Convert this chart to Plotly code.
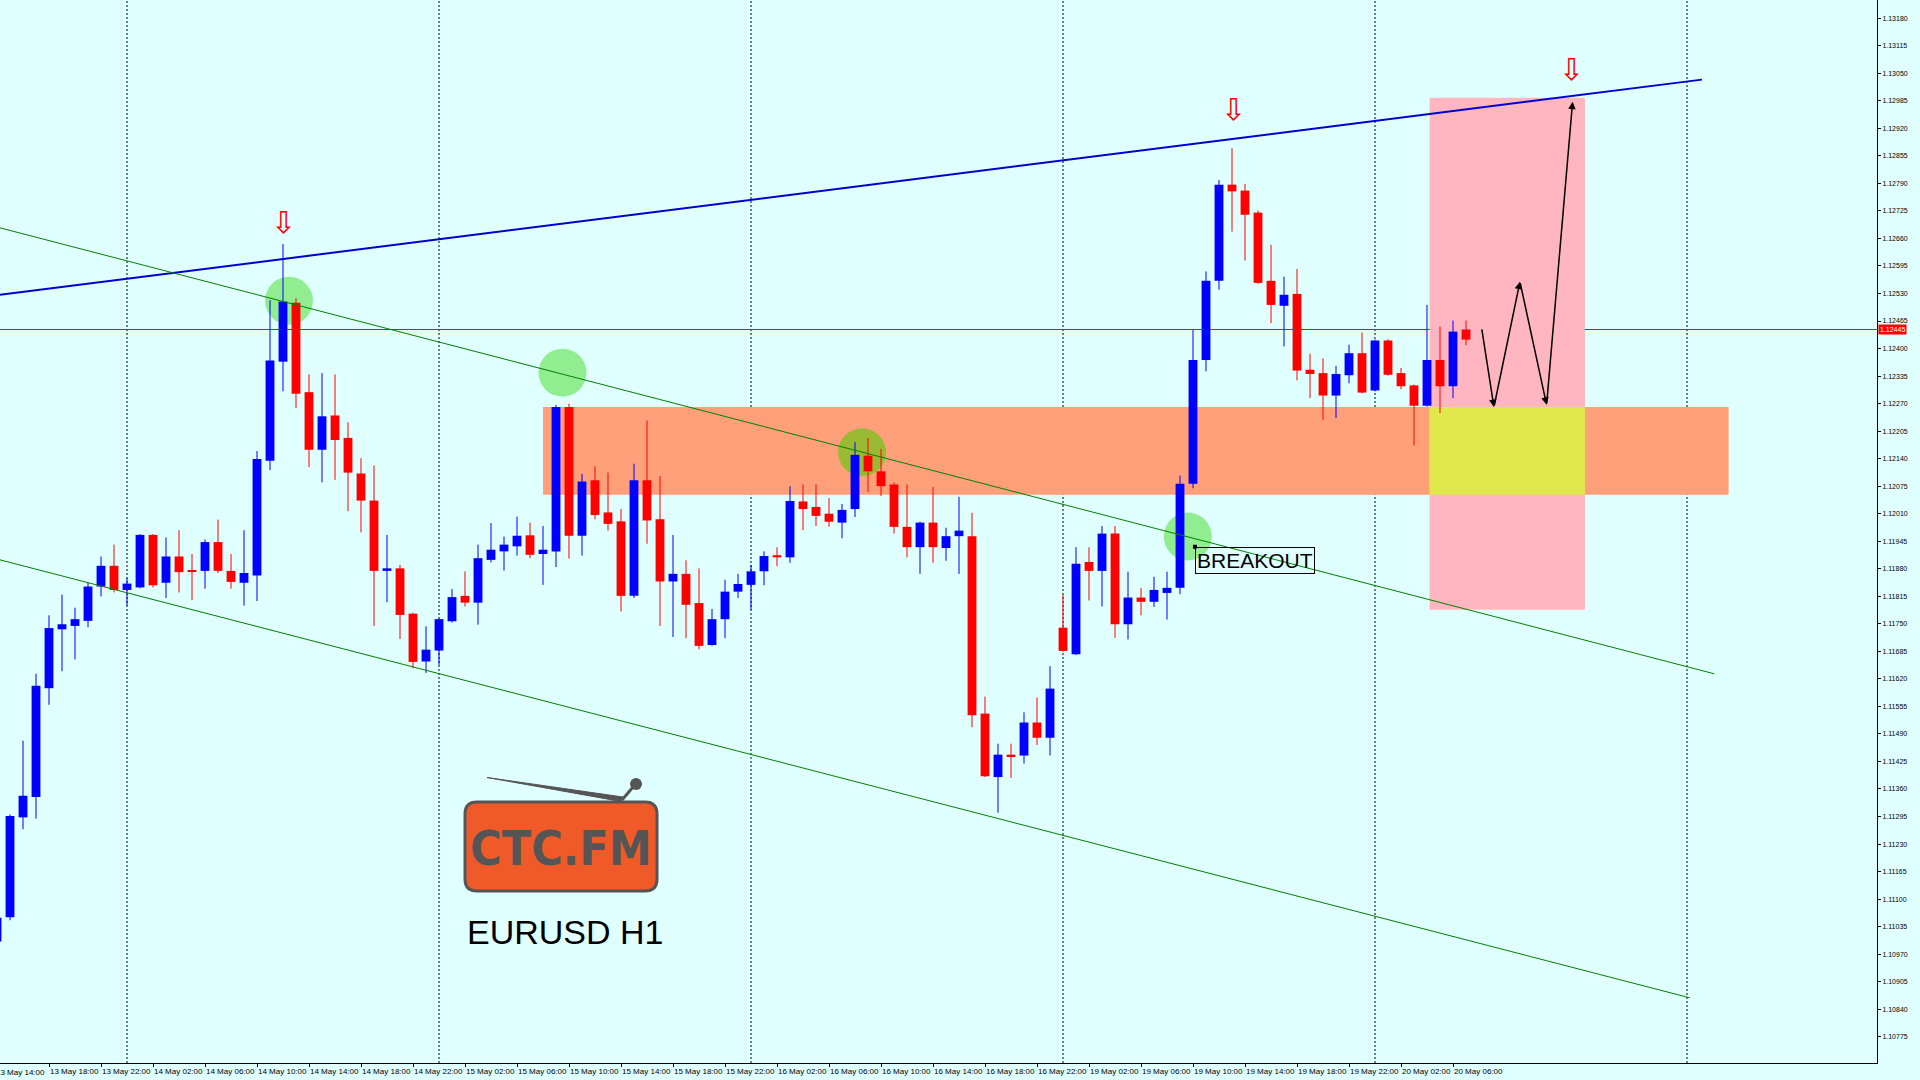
import plotly.graph_objects as go

# ---------------- data ----------------
bar_index = list(range(114))  # 0 = 13 May 14:00, hourly bars
opens = [1.11000, 1.11057, 1.11293, 1.11341, 1.11598, 1.11737, 1.11745, 1.11757, 1.11838, 1.11887,
         1.11830, 1.11836, 1.11960, 1.11847, 1.11909, 1.11877, 1.11875, 1.11943, 1.11875, 1.11847,
         1.11864, 1.12135, 1.12369, 1.12508, 1.12297, 1.12161, 1.12242, 1.12189, 1.12105, 1.12041,
         1.11875, 1.11881, 1.11774, 1.11661, 1.11687, 1.11756, 1.11816, 1.11800, 1.11901, 1.11921,
         1.11933, 1.11959, 1.11915, 1.11921, 1.12262, 1.11958, 1.12089, 1.12013, 1.11992, 1.11816,
         1.12089, 1.11997, 1.11850, 1.11868, 1.11799, 1.11700, 1.11761, 1.11826, 1.11842, 1.11874,
         1.11912, 1.11907, 1.12039, 1.12026, 1.12010, 1.11989, 1.12021, 1.12147, 1.12110, 1.12079,
         1.11979, 1.11931, 1.11989, 1.11929, 1.11957, 1.11957, 1.11538, 1.11388, 1.11441, 1.11439,
         1.11517, 1.11481, 1.11741, 1.11678, 1.11896, 1.11875, 1.11963, 1.11749, 1.11812, 1.11802,
         1.11823, 1.11835, 1.12081, 1.12373, 1.12560, 1.12787, 1.12773, 1.12721, 1.12560, 1.12501,
         1.12529, 1.12350, 1.12342, 1.12289, 1.12337, 1.12389, 1.12301, 1.12419, 1.12342, 1.12313,
         1.12265, 1.12373, 1.12311, 1.12445]
highs = [1.11062, 1.11300, 1.11474, 1.11632, 1.11770, 1.11819, 1.11788, 1.11847, 1.11909, 1.11937,
         1.11858, 1.11962, 1.11962, 1.11954, 1.11971, 1.11915, 1.11949, 1.11996, 1.11915, 1.11971,
         1.12158, 1.12514, 1.12647, 1.12519, 1.12339, 1.12342, 1.12339, 1.12226, 1.12141, 1.12124,
         1.11960, 1.11889, 1.11776, 1.11744, 1.11763, 1.11832, 1.11874, 1.11937, 1.11988, 1.11956,
         1.12003, 1.11989, 1.11981, 1.12267, 1.12270, 1.12104, 1.12122, 1.12107, 1.12021, 1.12128,
         1.12230, 1.12099, 1.11960, 1.11900, 1.11881, 1.11785, 1.11854, 1.11868, 1.11889, 1.11921,
         1.11931, 1.12075, 1.12079, 1.12079, 1.12047, 1.12033, 1.12179, 1.12189, 1.12163, 1.12084,
         1.12079, 1.11991, 1.12073, 1.11977, 1.12050, 1.12012, 1.11578, 1.11467, 1.11467, 1.11541,
         1.11576, 1.11650, 1.11818, 1.11931, 1.11931, 1.11981, 1.11981, 1.11873, 1.11835, 1.11861,
         1.11873, 1.12100, 1.12444, 1.12582, 1.12798, 1.12873, 1.12789, 1.12726, 1.12645, 1.12570,
         1.12588, 1.12388, 1.12377, 1.12359, 1.12409, 1.12438, 1.12421, 1.12422, 1.12354, 1.12315,
         1.12503, 1.12452, 1.12466, 1.12466]
lows = [1.10980, 1.11050, 1.11265, 1.11290, 1.11559, 1.11638, 1.11666, 1.11742, 1.11815, 1.11824,
        1.11793, 1.11834, 1.11836, 1.11811, 1.11824, 1.11806, 1.11833, 1.11870, 1.11833, 1.11793,
        1.11804, 1.12113, 1.12299, 1.12259, 1.12120, 1.12084, 1.12090, 1.12016, 1.11966, 1.11745,
        1.11801, 1.11714, 1.11645, 1.11634, 1.11653, 1.11753, 1.11791, 1.11748, 1.11895, 1.11876,
        1.11911, 1.11905, 1.11842, 1.11884, 1.11904, 1.11911, 1.11997, 1.11970, 1.11779, 1.11811,
        1.11939, 1.11745, 1.11719, 1.11716, 1.11690, 1.11698, 1.11716, 1.11811, 1.11783, 1.11841,
        1.11886, 1.11894, 1.11971, 1.11981, 1.11979, 1.11952, 1.12002, 1.12061, 1.12052, 1.11963,
        1.11907, 1.11868, 1.11894, 1.11899, 1.11868, 1.11506, 1.11388, 1.11304, 1.11386, 1.11420,
        1.11464, 1.11439, 1.11684, 1.11676, 1.11805, 1.11791, 1.11717, 1.11713, 1.11770, 1.11790,
        1.11760, 1.11820, 1.12070, 1.12346, 1.12539, 1.12676, 1.12608, 1.12553, 1.12460, 1.12405,
        1.12325, 1.12283, 1.12232, 1.12236, 1.12318, 1.12294, 1.12299, 1.12336, 1.12304, 1.12171,
        1.12263, 1.12248, 1.12283, 1.12408]
closes = [1.11056, 1.11296, 1.11344, 1.11604, 1.11740, 1.11749, 1.11761, 1.11838, 1.11887, 1.11830,
          1.11845, 1.11960, 1.11841, 1.11909, 1.11872, 1.11873, 1.11943, 1.11875, 1.11849, 1.11870,
          1.12139, 1.12372, 1.12511, 1.12293, 1.12161, 1.12240, 1.12184, 1.12107, 1.12041, 1.11875,
          1.11881, 1.11771, 1.11660, 1.11689, 1.11761, 1.11813, 1.11800, 1.11905, 1.11925, 1.11937,
          1.11958, 1.11913, 1.11925, 1.12262, 1.11958, 1.12086, 1.12007, 1.11986, 1.11816, 1.12089,
          1.11994, 1.11850, 1.11868, 1.11795, 1.11698, 1.11761, 1.11826, 1.11844, 1.11874, 1.11910,
          1.11907, 1.12040, 1.12021, 1.12005, 1.11991, 1.12019, 1.12149, 1.12110, 1.12075, 1.11979,
          1.11931, 1.11989, 1.11931, 1.11957, 1.11970, 1.11534, 1.11390, 1.11441, 1.11437, 1.11517,
          1.11481, 1.11597, 1.11686, 1.11892, 1.11875, 1.11963, 1.11749, 1.11812, 1.11802, 1.11830,
          1.11835, 1.12081, 1.12373, 1.12560, 1.12787, 1.12771, 1.12716, 1.12555, 1.12503, 1.12527,
          1.12348, 1.12340, 1.12289, 1.12340, 1.12389, 1.12296, 1.12419, 1.12338, 1.12311, 1.12265,
          1.12373, 1.12311, 1.12440, 1.12421]

time_tick_index = list(range(0, 113, 4))
time_tick_labels = ["13 May 14:00", "13 May 18:00", "13 May 22:00", "14 May 02:00", "14 May 06:00",
                    "14 May 10:00", "14 May 14:00", "14 May 18:00", "14 May 22:00", "15 May 02:00",
                    "15 May 06:00", "15 May 10:00", "15 May 14:00", "15 May 18:00", "15 May 22:00",
                    "16 May 02:00", "16 May 06:00", "16 May 10:00", "16 May 14:00", "16 May 18:00",
                    "16 May 22:00", "19 May 02:00", "19 May 06:00", "19 May 10:00", "19 May 14:00",
                    "19 May 18:00", "19 May 22:00", "20 May 02:00", "20 May 06:00"]
price_ticks = [round(1.10775 + 0.00065 * k, 5) for k in range(38)]
price_tick_labels = [f"{v:.5f}" for v in price_ticks]
day_grid_index = [10, 34, 58, 82, 106, 130]
bid_price = 1.12445

# drawn objects (time index, price)
blue_line_x = [0.23, 131.15]
blue_line_y = [1.12527, 1.13035]
green_upper_x = [0.23, 132.1]
green_upper_y = [1.12685, 1.11632]
green_lower_x = [0.23, 130.2]
green_lower_y = [1.11901, 1.10867]
zone_x = [42.0, 133.2]
zone_y = [1.12055, 1.12262]
target_x = [110.2, 122.15]
target_y = [1.11783, 1.12992]
circle_x = [22.46, 43.5, 66.54, 91.6]
circle_y = [1.12513, 1.12343, 1.12155, 1.11956]
down_arrow_x = [22.0, 95.1, 121.1]
down_arrow_y = [1.12697, 1.12964, 1.13058]
path_x = [114.2, 115.15, 117.15, 119.2, 121.2]
path_y = [1.12449, 1.12262, 1.12558, 1.12267, 1.12983]
breakout_x = 92.15
breakout_y = 1.11932

# ---------------- geometry / style ----------------
W, H = 1920, 1080
PL, PR, PT, PB = 0, 43, 0, 17
PW, PH = W - PL - PR, H - PT - PB
XR = [0.2308, 144.615]
YR = [1.10713, 1.13223]
BG = "#E0FFFF"
UP, DN = "#0000FF", "#FF0000"
FONT = "Liberation Sans, Arial, sans-serif"

px_per_x = PW / (XR[1] - XR[0])
px_per_y = PH / (YR[1] - YR[0])


def px(x):
    return x / PW


def py(y):
    return 1 - y / PH


fig = go.Figure()

base = [min(o, c) for o, c in zip(opens, closes)]
hgt = [max(abs(c - o), 0.00003) for o, c in zip(opens, closes)]
cols = [UP if c >= o else DN for o, c in zip(opens, closes)]

for col, up in ((UP, True), (DN, False)):
    wx, wy = [], []
    for i, o, h, l, c in zip(bar_index, opens, highs, lows, closes):
        if (c >= o) == up:
            wx += [i, i, None]
            wy += [l, h, None]
    fig.add_trace(go.Scatter(x=wx, y=wy, mode="lines", line=dict(color=col, width=1),
                             hoverinfo="skip"))

fig.add_trace(go.Bar(x=bar_index, y=hgt, base=base, width=0.68,
                     marker=dict(color=cols, line=dict(width=0)), hoverinfo="skip"))

fig.add_trace(go.Scatter(x=blue_line_x, y=blue_line_y, mode="lines",
                         line=dict(color="#0000CD", width=2), hoverinfo="skip"))
fig.add_trace(go.Scatter(x=green_upper_x, y=green_upper_y, mode="lines",
                         line=dict(color="#008000", width=1), hoverinfo="skip"))
fig.add_trace(go.Scatter(x=green_lower_x, y=green_lower_y, mode="lines",
                         line=dict(color="#008000", width=1), hoverinfo="skip"))
fig.add_trace(go.Scatter(x=[breakout_x], y=[breakout_y], mode="markers",
                         marker=dict(symbol="square", size=4, color="black"), hoverinfo="skip"))

shapes = []
shapes.append(dict(type="rect", xref="x", yref="y", x0=zone_x[0], x1=zone_x[1], y0=zone_y[0], y1=zone_y[1],
                   fillcolor="#FFA07A", line=dict(width=0), layer="below"))
shapes.append(dict(type="rect", xref="x", yref="y", x0=target_x[0], x1=target_x[1], y0=target_y[0],
                   y1=target_y[1], fillcolor="#FFB6C1", line=dict(width=0), layer="below"))
shapes.append(dict(type="rect", xref="x", yref="y", x0=target_x[0], x1=target_x[1], y0=zone_y[0],
                   y1=zone_y[1], fillcolor="#E1E84B", line=dict(width=0), layer="below"))
r = 24
for k, (cx, cy) in enumerate(zip(circle_x, circle_y)):
    fc = "#9BBA33" if k == 2 else "#90EE90"
    shapes.append(dict(type="circle", xref="x", yref="y", x0=cx - r / px_per_x, x1=cx + r / px_per_x,
                       y0=cy - r / px_per_y, y1=cy + r / px_per_y, fillcolor=fc,
                       line=dict(width=0), layer="below"))
for g in day_grid_index:
    shapes.append(dict(type="line", xref="x", yref="paper", x0=g, x1=g, y0=0, y1=1,
                       line=dict(color="black", width=1, dash="2px,2px"), layer="below"))
shapes.append(dict(type="line", xref="paper", yref="y", x0=0, x1=1, y0=bid_price, y1=bid_price,
                   line=dict(color="#FF0000", width=1), layer="below"))

# logo
lx0, lx1, ly0, ly1, rr = 465, 657, 802, 891, 12
pth = (f"M {px(lx0+rr)},{py(ly0)} L {px(lx1-rr)},{py(ly0)} Q {px(lx1)},{py(ly0)} {px(lx1)},{py(ly0+rr)} "
       f"L {px(lx1)},{py(ly1-rr)} Q {px(lx1)},{py(ly1)} {px(lx1-rr)},{py(ly1)} "
       f"L {px(lx0+rr)},{py(ly1)} Q {px(lx0)},{py(ly1)} {px(lx0)},{py(ly1-rr)} "
       f"L {px(lx0)},{py(ly0+rr)} Q {px(lx0)},{py(ly0)} {px(lx0+rr)},{py(ly0)} Z")
shapes.append(dict(type="path", xref="paper", yref="paper", path=pth, fillcolor="#F05A28",
                   line=dict(color="#555555", width=3)))
ant = f"M {px(487)},{py(777.5)} L {px(623)},{py(797)} L {px(621)},{py(801.5)} Z"
shapes.append(dict(type="path", xref="paper", yref="paper", path=ant, fillcolor="#555555",
                   line=dict(color="#555555", width=1)))
shapes.append(dict(type="line", xref="paper", yref="paper", x0=px(622), y0=py(800), x1=px(633), y1=py(787),
                   line=dict(color="#555555", width=3)))
shapes.append(dict(type="circle", xref="paper", yref="paper", x0=px(630), x1=px(642), y0=py(778), y1=py(790),
                   fillcolor="#555555", line=dict(width=0)))

annotations = []
annotations.append(dict(xref="paper", yref="paper", x=px(561), y=py(848), text="<b>CTC.FM</b>",
                        showarrow=False, font=dict(family="DejaVu Sans Condensed, DejaVu Sans, sans-serif",
                                                   size=48, color="#555555"),
                        xanchor="center", yanchor="middle"))
annotations.append(dict(xref="paper", yref="paper", x=px(565), y=py(932), text="EURUSD H1",
                        showarrow=False, font=dict(family=FONT, size=34, color="black"),
                        xanchor="center", yanchor="middle"))
for ax_, ay_ in zip(down_arrow_x, down_arrow_y):
    annotations.append(dict(xref="x", yref="y", x=ax_, y=ay_, text="⇩", showarrow=False,
                            font=dict(family="DejaVu Sans", size=30, color="#FF0000"),
                            xanchor="center", yanchor="middle"))
for k in range(len(path_x) - 1):
    annotations.append(dict(xref="x", yref="y", axref="x", ayref="y", x=path_x[k + 1], y=path_y[k + 1],
                            ax=path_x[k], ay=path_y[k], text="", showarrow=True, arrowhead=2,
                            arrowsize=1, arrowwidth=1.5, arrowcolor="black", standoff=0))
annotations.append(dict(xref="x", yref="y", x=breakout_x, y=breakout_y, text="BREAKOUT", showarrow=False,
                        xanchor="left", yanchor="top", font=dict(family=FONT, size=21, color="black"),
                        bordercolor="black", borderwidth=1, borderpad=1))
annotations.append(dict(xref="paper", yref="y", x=1, y=bid_price, text=f"{bid_price:.5f}", showarrow=False,
                        xanchor="left", yanchor="middle", xshift=1, bgcolor="#FF0000",
                        font=dict(family=FONT, size=7, color="white"), borderpad=1))
# first time label, its tick lies just left of the visible area
annotations.append(dict(xref="paper", yref="paper", x=0, y=0, text=time_tick_labels[0],
                        showarrow=False, xanchor="left", yanchor="top", xshift=-6, yshift=-3,
                        font=dict(family=FONT, size=8, color="black")))

fig.update_layout(
    width=W, height=H, margin=dict(l=PL, r=PR, t=PT, b=PB),
    paper_bgcolor=BG, plot_bgcolor=BG, showlegend=False, barmode="overlay",
    shapes=shapes, annotations=annotations,
    xaxis=dict(range=XR, tickmode="array", tickvals=time_tick_index, ticktext=time_tick_labels,
               ticks="outside", ticklen=3, tickcolor="black", showgrid=False, zeroline=False,
               showline=True, linecolor="black", linewidth=1, automargin=False, tickangle=0,
               ticklabelposition="outside right",
               tickfont=dict(family=FONT, size=8, color="black"), fixedrange=True),
    yaxis=dict(range=YR, side="right", tickmode="array", tickvals=price_ticks, ticktext=price_tick_labels,
               ticks="outside", ticklen=3, tickcolor="black", showgrid=False, zeroline=False,
               showline=True, linecolor="black", linewidth=1, automargin=False,
               tickfont=dict(family=FONT, size=7, color="black"), fixedrange=True),
)

fig.write_html("out.html", config={"displayModeBar": False},
               post_script="document.body.style.margin='0';document.body.style.overflow='hidden';")
